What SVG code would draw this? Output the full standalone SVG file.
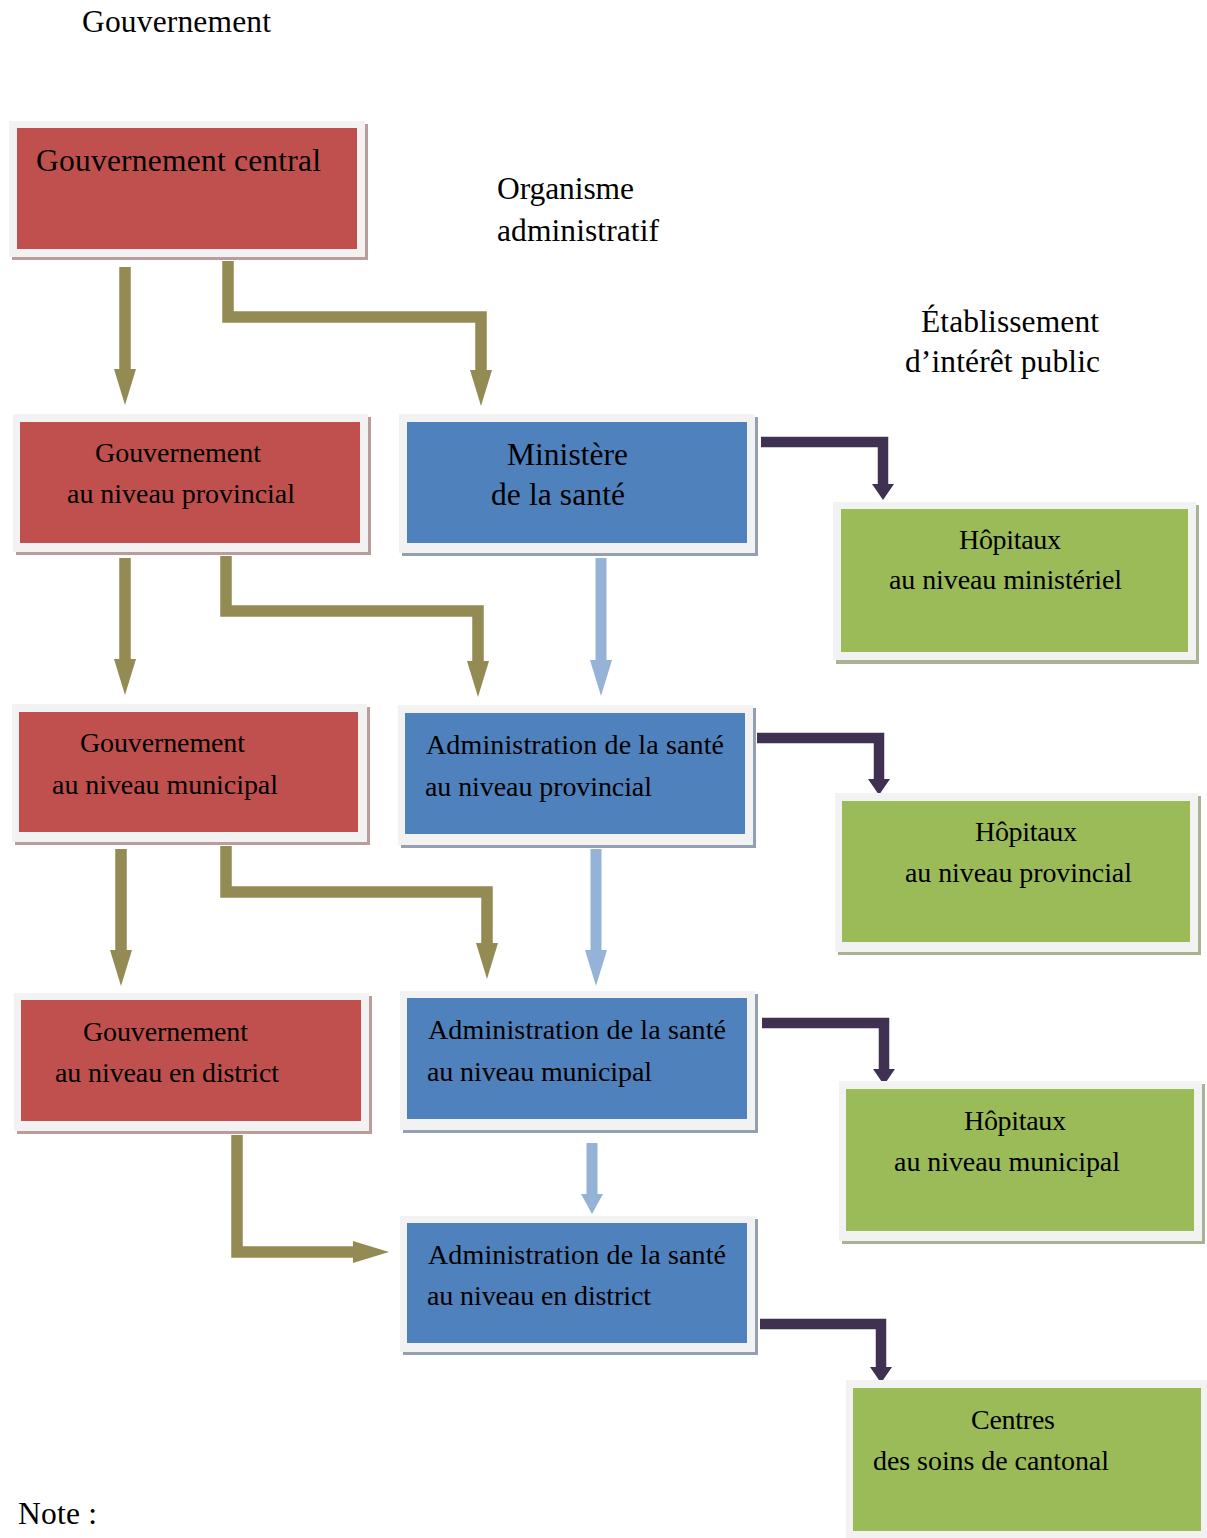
<svg xmlns="http://www.w3.org/2000/svg" width="1207" height="1538" viewBox="0 0 1207 1538">
<style>
text{font-family:"Liberation Serif","Times New Roman",serif;fill:#000}
.h{font-size:31.5px}
.l{font-size:28px}
.b{font-size:31.5px}
.frame{fill:#f2f2f2}
.rs{fill:#bb9c9c}.bs{fill:#939fb2}.gs{fill:#a8b393}
.r{fill:#c0504d}.bl{fill:#4f81bd}.g{fill:#9bbb59}
.ol{fill:none;stroke:#948a54;stroke-width:11.5;stroke-linejoin:miter}
.lb{fill:none;stroke:#95b3d7;stroke-width:11}
.pu{fill:none;stroke:#403152;stroke-width:10.5;stroke-linejoin:miter}
</style>
<defs>
<marker id="mOl" markerUnits="userSpaceOnUse" viewBox="0 -11 36 22" refX="0" refY="0" markerWidth="36" markerHeight="22" orient="auto"><path d="M0,-11 L36,0 L0,11 Z" fill="#948a54"/></marker>
<marker id="mLb" markerUnits="userSpaceOnUse" viewBox="0 -11 36 22" refX="0" refY="0" markerWidth="36" markerHeight="22" orient="auto"><path d="M0,-11 L36,0 L0,11 Z" fill="#95b3d7"/></marker>
<marker id="mLbS" markerUnits="userSpaceOnUse" viewBox="0 -11 20 22" refX="0" refY="0" markerWidth="20" markerHeight="22" orient="auto"><path d="M0,-11 L20,0 L0,11 Z" fill="#95b3d7"/></marker>
<marker id="mPu" markerUnits="userSpaceOnUse" viewBox="0 -11 16 22" refX="0" refY="0" markerWidth="16" markerHeight="22" orient="auto"><path d="M0,-11 L16,0 L0,11 Z" fill="#403152"/></marker>
</defs>
<rect width="1207" height="1538" fill="#fff"/>

<g id="headings">
<text class="h" x="82" y="32" textLength="189">Gouvernement</text>
<text class="h" x="497" y="199" textLength="137">Organisme</text>
<text class="h" x="497" y="241" textLength="162">administratif</text>
<text class="h" x="921" y="332" textLength="178">Établissement</text>
<text class="h" x="905" y="372" textLength="195">d’intérêt public</text>
<text class="h" x="18" y="1524" textLength="79">Note :</text>
</g>

<g id="connectors">
<path class="ol" d="M125,267 V369" marker-end="url(#mOl)"/>
<path class="ol" d="M228,261 V317 H481 V370" marker-end="url(#mOl)"/>
<path class="ol" d="M125,558 V659" marker-end="url(#mOl)"/>
<path class="ol" d="M226,556 V611 H478 V661" marker-end="url(#mOl)"/>
<path class="ol" d="M121,849 V950" marker-end="url(#mOl)"/>
<path class="ol" d="M226,846 V892 H487 V943" marker-end="url(#mOl)"/>
<path class="ol" d="M237,1135 V1252 H353" marker-end="url(#mOl)"/>
<path class="lb" d="M601,558 V660" marker-end="url(#mLb)"/>
<path class="lb" d="M596,849 V950" marker-end="url(#mLb)"/>
<path class="lb" d="M592,1143 V1194" marker-end="url(#mLbS)"/>
<path class="pu" d="M761,442 H883 V484" marker-end="url(#mPu)"/>
<path class="pu" d="M757,738 H879 V779" marker-end="url(#mPu)"/>
<path class="pu" d="M762,1023 H884 V1069" marker-end="url(#mPu)"/>
<path class="pu" d="M760,1324 H881 V1367" marker-end="url(#mPu)"/>
</g>

<g id="gouv-central">
<rect class="rs" x="12" y="124" width="356" height="136"/>
<rect class="frame" x="9" y="121" width="356" height="136"/>
<rect class="r" x="17" y="128" width="340" height="121"/>
<text class="b" x="36" y="171" textLength="285">Gouvernement central</text>
</g>
<g id="gouv-provincial">
<rect class="rs" x="16" y="417" width="355" height="138"/>
<rect class="frame" x="13" y="414" width="355" height="138"/>
<rect class="r" x="20" y="422" width="340" height="121"/>
<text class="l" x="95" y="462" textLength="166">Gouvernement</text>
<text class="l" x="67" y="503" textLength="228">au niveau provincial</text>
</g>
<g id="gouv-municipal">
<rect class="rs" x="15" y="707" width="355" height="138"/>
<rect class="frame" x="12" y="704" width="355" height="138"/>
<rect class="r" x="19" y="712" width="339" height="120"/>
<text class="l" x="80" y="752" textLength="165">Gouvernement</text>
<text class="l" x="52" y="794" textLength="226">au niveau municipal</text>
</g>
<g id="gouv-district">
<rect class="rs" x="17" y="996" width="355" height="138"/>
<rect class="frame" x="14" y="993" width="355" height="138"/>
<rect class="r" x="21" y="1000" width="340" height="121"/>
<text class="l" x="83" y="1041" textLength="165">Gouvernement</text>
<text class="l" x="55" y="1082" textLength="224">au niveau en district</text>
</g>

<g id="ministere">
<rect class="bs" x="402" y="417" width="356" height="139"/>
<rect class="frame" x="399" y="414" width="356" height="139"/>
<rect class="bl" x="407" y="422" width="340" height="121"/>
<text class="b" x="507" y="465" textLength="121">Ministère</text>
<text class="b" x="491" y="505" textLength="134">de la santé</text>
</g>
<g id="admin-provincial">
<rect class="bs" x="401" y="708" width="355" height="140"/>
<rect class="frame" x="398" y="705" width="355" height="140"/>
<rect class="bl" x="405" y="713" width="340" height="121"/>
<text class="l" x="426" y="754" textLength="298">Administration de la santé</text>
<text class="l" x="425" y="796" textLength="227">au niveau provincial</text>
</g>
<g id="admin-municipal">
<rect class="bs" x="403" y="994" width="355" height="139"/>
<rect class="frame" x="400" y="991" width="355" height="139"/>
<rect class="bl" x="407" y="998" width="340" height="121"/>
<text class="l" x="428" y="1039" textLength="298">Administration de la santé</text>
<text class="l" x="427" y="1081" textLength="225">au niveau municipal</text>
</g>
<g id="admin-district">
<rect class="bs" x="403" y="1219" width="355" height="136"/>
<rect class="frame" x="400" y="1216" width="355" height="136"/>
<rect class="bl" x="407" y="1223" width="340" height="120"/>
<text class="l" x="428" y="1264" textLength="298">Administration de la santé</text>
<text class="l" x="427" y="1305" textLength="224">au niveau en district</text>
</g>

<g id="hop-ministeriel">
<rect class="gs" x="836" y="505" width="363" height="159"/>
<rect class="frame" x="833" y="502" width="363" height="158"/>
<rect class="g" x="841" y="509" width="347" height="143"/>
<text class="l" x="959" y="549" textLength="102">Hôpitaux</text>
<text class="l" x="889" y="589" textLength="233">au niveau ministériel</text>
</g>
<g id="hop-provincial">
<rect class="gs" x="838" y="796" width="363" height="159"/>
<rect class="frame" x="835" y="793" width="363" height="159"/>
<rect class="g" x="842" y="801" width="348" height="141"/>
<text class="l" x="975" y="841" textLength="102">Hôpitaux</text>
<text class="l" x="905" y="882" textLength="227">au niveau provincial</text>
</g>
<g id="hop-municipal">
<rect class="gs" x="842" y="1084" width="363" height="160"/>
<rect class="frame" x="839" y="1081" width="363" height="160"/>
<rect class="g" x="846" y="1089" width="348" height="142"/>
<text class="l" x="964" y="1130" textLength="102">Hôpitaux</text>
<text class="l" x="894" y="1171" textLength="226">au niveau municipal</text>
</g>
<g id="centres-cantonal">
<rect class="frame" x="846" y="1380" width="361" height="158"/>
<rect class="g" x="853" y="1388" width="348" height="143"/>
<text class="l" x="971" y="1429" textLength="84">Centres</text>
<text class="l" x="873" y="1470" textLength="236">des soins de cantonal</text>
</g>
</svg>
